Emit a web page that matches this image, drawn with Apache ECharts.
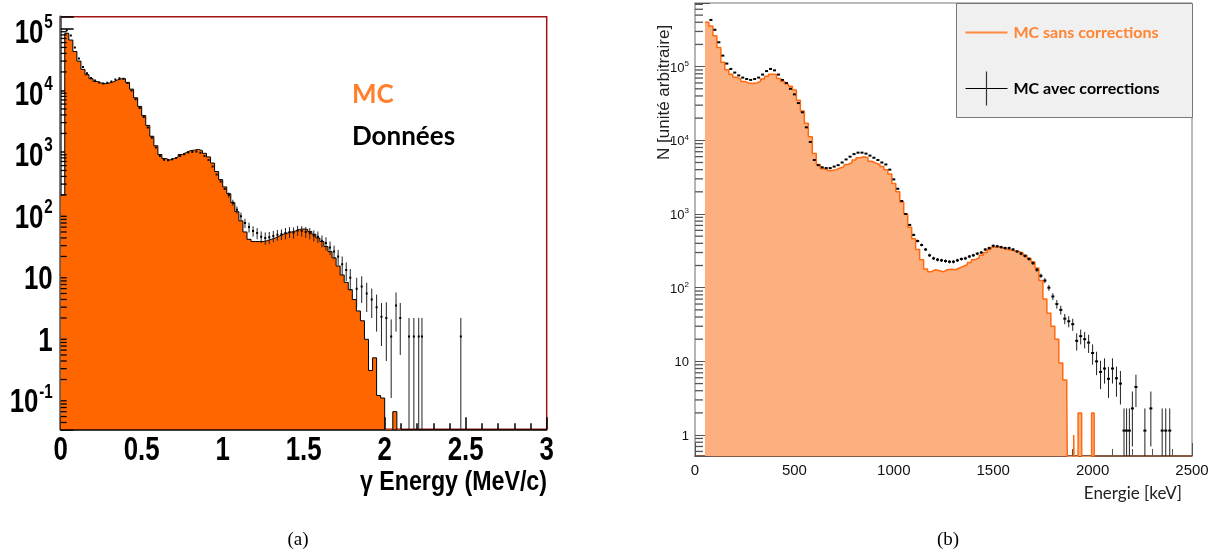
<!DOCTYPE html>
<html>
<head>
<meta charset="UTF-8">
<title>Spectres gamma</title>
<script src="https://cdn.jsdelivr.net/npm/echarts@6/dist/echarts.min.js"></script>
<style>
  html, body { margin: 0; padding: 0; background: #fff; }
  #main { width: 1220px; height: 555px; }
</style>
</head>
<body>
<div id="main"></div>
<script>
// ---- (a) gamma energy, MeV ----
// MC histogram, bins of 0.025 MeV starting at 0
var leftBin = 0.025;
var leftMc = [
    200, 85000, 66000, 43000, 30000, 22000, 18000, 15500, 14000, 13200,
    12900, 13200, 13800, 14800, 15500, 15500, 13500, 10500, 7600, 5500,
    3900, 2700, 1800, 1260, 910, 780, 740, 780, 830, 910,
    980, 1050, 1070, 1100, 1050, 950, 830, 660, 480, 355,
    270, 210, 150, 107, 76, 50, 38, 35, 35, 35,
    36, 38, 40, 43, 46, 48, 50, 52, 55, 56,
    55, 51, 46, 40, 35, 29, 24, 19, 14, 10,
    7.6, 5.8, 4, 2.6, 1.8, 0.9, 0.28, 0.45, 0.11, 0.1,
    0.001, 0.001, 0.06, 0.001
];
// data points, bin centres from 0.0375 MeV
var leftDataStart = 0.0375;
var leftDataY = [
    95000, 78000, 50000, 33000, 24000, 19000, 16000, 14500, 13500, 13000,
    13300, 14000, 15000, 15800, 15500, 13200, 10000, 7200, 5200, 3700,
    2500, 1700, 1180, 860, 750, 730, 760, 800, 860, 920,
    980, 1000, 1020, 970, 860, 740, 580, 430, 330, 250,
    200, 150, 115, 90, 70, 60, 52, 48, 42, 40,
    41, 43, 45, 46, 48, 50, 49, 53, 52, 50,
    48, 44, 42, 36, 33, 28, 24, 20, 15, 12,
    9
];
var leftDataErr = [
    0, 0, 0, 0, 0, 0, 0, 0, 0, 0,
    0, 0, 0, 0, 0, 0, 0, 0, 0, 0,
    0, 0, 0, 0, 0, 0, 0, 0, 0, 0,
    0, 0, 0, 0, 0, 0, 0, 0, 0, 0,
    20, 17, 15, 13, 12, 11, 10, 10, 9, 9,
    9, 9, 9, 9, 10, 10, 10, 10, 10, 10,
    10, 9, 9, 8, 8, 7, 6, 5.5, 5, 4,
    3.5
];
var leftTailE = [1.827, 1.858, 1.889, 1.92, 1.95, 1.98, 2.01, 2.04, 2.07, 2.096, 2.15, 2.18, 2.21, 2.23, 2.47];
var leftTailY = [6, 6.5, 5, 4, 3, 2.1, 2.0, 1.0, 3.2, 2.0, 1.0, 1.0, 1.0, 1.0, 1.0];
var leftTailErr = [3, 3, 2.5, 2, 1.8, 1.4, 1.6, 0.9, 2, 1.5, 1, 1, 1, 1, 1];
var leftXTicks = [0, 0.5, 1, 1.5, 2, 2.5, 3];
var leftYExp = [-1, 0, 1, 2, 3, 4, 5];

// ---- (b) energie, keV ----
// MC sans corrections, bins of 20 keV starting at 50 keV
var rightBinStart = 50;
var rightBin = 20;
var rightMc = [
    400000, 355000, 263000, 182000, 115000, 91000, 79000, 72000, 68000, 63000,
    60000, 59000, 60000, 63000, 68000, 74000, 79000, 78000, 69000, 63000,
    58000, 54000, 48000, 35000, 25000, 17000, 11200, 6600, 4700, 4100,
    3900, 3900, 4000, 4200, 4400, 4700, 5000, 5400, 5800, 6000,
    5800, 5200, 4900, 4700, 4400, 4000, 3500, 2600, 2000, 1450,
    1000, 660, 460, 330, 240, 180, 165, 175, 170, 165,
    175, 178, 175, 185, 195, 205, 220, 240, 255, 275,
    300, 330, 355, 360, 345, 330, 325, 315, 310, 295,
    275, 250, 225, 185, 125, 70, 45, 30, 20, 9.5,
    5.6, 3.5
];
var rightMcTailE = [1878, 1905, 1915, 1927, 1945, 1995, 2008];
var rightMcTailY = [0.01, 1, 0.01, 2, 0.01, 2, 0.01];
// MC avec corrections, points every 20 keV from 80 keV
var rightDataStart = 80;
var rightDataY = [
    430000, 316000, 214000, 141000, 110000, 93000, 83000, 76000, 71000, 68000,
    66000, 68000, 71000, 78000, 87000, 93000, 89000, 78000, 66000, 60000,
    50000, 42000, 32000, 24000, 15000, 9500, 5400, 4600, 4300, 4200,
    4200, 4400, 4600, 5000, 5500, 6000, 6500, 6800, 6800, 6600,
    6200, 5800, 5400, 5000, 4700, 4000, 2950, 2200, 1500, 1000,
    710, 520, 430, 380, 330, 275, 250, 240, 235, 230,
    225, 225, 235, 245, 250, 265, 275, 290, 300, 330,
    345, 370, 365, 355, 345, 345, 330, 310, 290, 270,
    245, 215, 175, 145, 125, 100, 76, 60, 50, 38,
    35, 32, 19, 22, 20, 18, 13, 10, 7.2, 8,
    5.8, 8, 5.9, 5.0
];
var rightDataErr = [
    0, 0, 0, 0, 0, 0, 0, 0, 0, 0,
    0, 0, 0, 0, 0, 0, 0, 0, 0, 0,
    0, 0, 0, 0, 0, 0, 0, 0, 0, 0,
    0, 0, 0, 0, 0, 0, 0, 0, 0, 0,
    0, 0, 0, 0, 0, 0, 0, 0, 0, 0,
    25, 20, 18, 16, 15, 14, 13, 13, 12, 12,
    12, 12, 12, 12, 13, 13, 13, 14, 14, 15,
    15, 16, 16, 16, 16, 16, 15, 15, 14, 14,
    13, 12, 11, 10, 10, 9, 8, 8, 7, 6,
    6, 6, 5, 5, 5, 5, 4, 3.5, 3, 3,
    2.6, 3, 2.6, 2.4
];
var rightTailE = [2158, 2171, 2185, 2200, 2218, 2263, 2293, 2350, 2368, 2388];
var rightTailY = [1.15, 1.15, 1.15, 2.3, 4.5, 1.15, 2.3, 1.15, 1.15, 1.15];
var rightTailErr = [1.15, 1.15, 1.15, 1.6, 2.1, 1.15, 1.6, 1.15, 1.15, 1.15];

var leftYMin = 0.031, leftYMax = 158000;
var rightYMin = 0.52, rightYMax = 730000;

var plain = "'Liberation Sans', Arial, sans-serif";
var calibri = "Lato, 'Open Sans', sans-serif";
var bigFont = "bold 34px 'Liberation Sans', Arial, sans-serif";
var supFont = "bold 20px 'Liberation Sans', Arial, sans-serif";
var squeeze = 0.76;   // the left panel was squeezed sideways

var measureCtx = document.createElement('canvas').getContext('2d');
function textWidth(t, font) {
    measureCtx.font = font;
    return measureCtx.measureText(t).width;
}

function stepData(start, width, vals) {
    return vals.map(function (v, i) { return [start + i * width, v]; });
}

function pointData(start, width, ys, errs) {
    return ys.map(function (v, i) { return [start + i * width, v, errs[i]]; });
}

function zipData(xs, ys, errs) {
    return xs.map(function (x, i) { return [x, ys[i], errs ? errs[i] : 0]; });
}

function powLabel(v) {
    var p = Math.log10(v);
    var r = Math.round(p);
    if (Math.abs(p - r) > 1e-6) return '';
    if (r === 0) return '{b|1}';
    if (r === 1) return '{b|10}';
    return '{b|10}{s|' + r + '}';
}

function minorValues(lo, hi) {
    var out = [];
    for (var d = -3; d <= 6; d++) {
        for (var m = 2; m <= 9; m++) {
            var v = m * Math.pow(10, d);
            if (v > lo && v < hi) out.push(v);
        }
    }
    return out;
}

function minorTickSeries(xi, yi, vals, len, color) {
    return {
        type: 'custom', xAxisIndex: xi, yAxisIndex: yi, silent: true, z: 5,
        data: vals.map(function (v) { return [0, v]; }),
        renderItem: function (params, api) {
            var p = api.coord([0, api.value(1)]);
            return {
                type: 'line',
                shape: { x1: p[0], y1: p[1], x2: p[0] + len, y2: p[1] },
                style: { stroke: color, lineWidth: 1.3 }
            };
        }
    };
}

function errorSeries(xi, yi, data, yMin, barColor, dotW) {
    return {
        type: 'custom', xAxisIndex: xi, yAxisIndex: yi, silent: true, z: 4,
        clip: true,
        data: data,
        renderItem: function (params, api) {
            var x = api.value(0), y = api.value(1), e = api.value(2);
            var c = api.coord([x, y]);
            var kids = [];
            if (e > 0) {
                var hi = api.coord([x, y + e]);
                var lo = api.coord([x, Math.max(y - e, yMin * 0.5)]);
                kids.push({
                    type: 'line',
                    shape: { x1: c[0], y1: hi[1], x2: c[0], y2: lo[1] },
                    style: { stroke: barColor, lineWidth: 1 }
                });
            }
            kids.push({
                type: 'rect',
                shape: { x: c[0] - dotW / 2, y: c[1] - 1, width: dotW, height: 2 },
                style: { fill: '#000' }
            });
            return { type: 'group', children: kids };
        }
    };
}

// big bold tick labels of panel (a), drawn narrow like the original
var leftXLabelSeries = {
    type: 'custom', xAxisIndex: 0, yAxisIndex: 0, silent: true, z: 6,
    data: leftXTicks.map(function (v) { return [v, leftYMin]; }),
    renderItem: function (params, api) {
        var p = api.coord([api.value(0), leftYMin]);
        return {
            type: 'text', x: p[0], y: p[1] + 21, scaleX: squeeze,
            style: { text: String(api.value(0)), font: bigFont, fill: '#000', align: 'center', verticalAlign: 'middle' }
        };
    }
};

var leftYLabelSeries = {
    type: 'custom', xAxisIndex: 0, yAxisIndex: 0, silent: true, z: 6,
    data: leftYExp.map(function (e) { return [0, Math.pow(10, e), e]; }),
    renderItem: function (params, api) {
        var e = api.value(2);
        var p = api.coord([0, Math.pow(10, e)]);
        var base = e === 0 ? '1' : '10';
        var sup = (e === 0 || e === 1) ? '' : String(e);
        var supW = sup ? textWidth(sup, supFont) + 1 : 0;
        var kids = [{
            type: 'text', x: -supW, y: 5,
            style: { text: base, font: bigFont, fill: '#000', align: 'right', verticalAlign: 'middle' }
        }];
        if (sup) {
            kids.push({
                type: 'text', x: 0, y: -16,
                style: { text: sup, font: supFont, fill: '#000', align: 'right', verticalAlign: 'top' }
            });
        }
        return { type: 'group', x: p[0] - 8, y: p[1], scaleX: squeeze, children: kids };
    }
};

var leftMcData = stepData(0, leftBin, leftMc);
leftMcData.push([leftMc.length * leftBin, 0.001]);

var rightMcData = stepData(rightBinStart, rightBin, rightMc);
rightMcTailE.forEach(function (x, i) { rightMcData.push([x, rightMcTailY[i]]); });

var leftPoints = pointData(leftDataStart, leftBin, leftDataY, leftDataErr)
    .concat(zipData(leftTailE, leftTailY, leftTailErr));
var rightPoints = pointData(rightDataStart, rightBin, rightDataY, rightDataErr)
    .concat(zipData(rightTailE, rightTailY, rightTailErr));

var chart = echarts.init(document.getElementById('main'));

var option = {
    animation: false,
    backgroundColor: '#fff',
    grid: [
        { left: 60.7, top: 16.7, width: 486, height: 412.6, show: true,
          borderColor: '#a01414', borderWidth: 1.5, backgroundColor: 'transparent' },
        { left: 695, top: 3, width: 497, height: 453, show: true,
          borderColor: '#777', borderWidth: 1, backgroundColor: 'transparent' }
    ],
    xAxis: [
        {
            gridIndex: 0, type: 'value', min: 0, max: 3, interval: 0.5,
            axisLine: { lineStyle: { color: '#000', width: 1.5 } },
            axisTick: { inside: true, length: 12, lineStyle: { color: '#000', width: 1.5 } },
            minorTick: { show: true, splitNumber: 5, length: 6, lineStyle: { color: '#000', width: 1.5 } },
            axisLabel: { show: false },
            splitLine: { show: false }
        },
        {
            gridIndex: 1, type: 'value', min: 0, max: 2500, interval: 500,
            axisLine: { lineStyle: { color: '#7a3a1a', width: 1.5 } },
            axisTick: { inside: true, length: 13, lineStyle: { color: '#555', width: 1 } },
            minorTick: { show: true, splitNumber: 5, length: 7, lineStyle: { color: '#555', width: 1 } },
            axisLabel: { margin: 7, color: '#111', fontFamily: plain, fontSize: 15,
                formatter: function (v) { return String(v); } },
            splitLine: { show: false }
        }
    ],
    yAxis: [
        {
            gridIndex: 0, type: 'log', logBase: 10, min: leftYMin, max: leftYMax, splitNumber: 7,
            axisLine: { lineStyle: { color: '#555', width: 2.5 } },
            axisTick: { inside: true, length: 13, lineStyle: { color: '#000', width: 1.5 } },
            axisLabel: { show: false },
            splitLine: { show: false }
        },
        {
            gridIndex: 1, type: 'log', logBase: 10, min: rightYMin, max: rightYMax, splitNumber: 7,
            axisLine: { lineStyle: { color: '#b5b5b5', width: 2 } },
            axisTick: { inside: true, length: 15, lineStyle: { color: '#555', width: 1 } },
            axisLabel: {
                margin: 6, formatter: powLabel,
                rich: {
                    b: { fontFamily: plain, fontSize: 13, color: '#111', lineHeight: 14, padding: [3, 0, 0, 0] },
                    s: { fontFamily: plain, fontSize: 8, color: '#111', lineHeight: 8, verticalAlign: 'top' }
                }
            },
            splitLine: { show: false }
        }
    ],
    graphic: [
        { type: 'text', left: 352, top: 82, style: { text: 'MC', fill: '#ff7f2a', font: 'bold 26px ' + calibri } },
        { type: 'text', left: 352, top: 124, style: { text: 'Données', fill: '#000', font: 'bold 26px ' + calibri } },
        { type: 'text', x: 547, y: 483, scaleX: 0.86, style: { text: 'γ Energy (MeV/c)', fill: '#000', font: 'bold 27px ' + plain, align: 'right', verticalAlign: 'middle' } },
        { type: 'text', x: 1182, y: 494, style: { text: 'Energie [keV]', fill: '#222', font: '17px ' + calibri, align: 'right', verticalAlign: 'middle' } },
        { type: 'text', x: 664, y: 160, rotation: Math.PI / 2, style: { text: 'N [unité arbitraire]', fill: '#222', font: '17px ' + plain, align: 'left', verticalAlign: 'middle' } },
        { type: 'text', x: 298, y: 540, style: { text: '(a)', fill: '#000', font: '19px "Liberation Serif", "DejaVu Serif", serif', align: 'center', verticalAlign: 'middle' } },
        { type: 'text', x: 948, y: 540, style: { text: '(b)', fill: '#000', font: '19px "Liberation Serif", "DejaVu Serif", serif', align: 'center', verticalAlign: 'middle' } },
        {
            type: 'group', left: 956, top: 3,
            children: [
                { type: 'rect', shape: { x: 0, y: 0, width: 236, height: 114 }, style: { fill: '#f0f0f0', stroke: '#777', lineWidth: 1 } },
                { type: 'line', shape: { x1: 9, y1: 29, x2: 51, y2: 29 }, style: { stroke: '#ff8a3d', lineWidth: 2 } },
                { type: 'text', x: 57, y: 29, style: { text: 'MC sans corrections', fill: '#ff8533', font: 'bold 16px ' + calibri, verticalAlign: 'middle' } },
                { type: 'line', shape: { x1: 9, y1: 85, x2: 51, y2: 85 }, style: { stroke: '#000', lineWidth: 1.2 } },
                { type: 'line', shape: { x1: 30, y1: 68, x2: 30, y2: 102 }, style: { stroke: '#333', lineWidth: 1.2 } },
                { type: 'text', x: 57, y: 85, style: { text: 'MC avec corrections', fill: '#000', font: 'bold 16px ' + calibri, verticalAlign: 'middle' } }
            ]
        }
    ],
    series: [
        {
            type: 'line', xAxisIndex: 0, yAxisIndex: 0, step: 'end', symbol: 'none', z: 2,
            data: leftMcData,
            lineStyle: { color: '#000', width: 1 },
            areaStyle: { origin: 'start', color: '#ff6600', opacity: 1 }
        },
        {
            type: 'line', xAxisIndex: 1, yAxisIndex: 1, step: 'end', symbol: 'none', z: 2,
            data: rightMcData,
            lineStyle: { color: '#ff6a10', width: 1.5 },
            areaStyle: { origin: 'start', color: '#fdb07f', opacity: 1 }
        },
        errorSeries(0, 0, leftPoints, leftYMin, '#222', 2),
        errorSeries(1, 1, rightPoints, rightYMin, '#222', 3),
        minorTickSeries(0, 0, minorValues(leftYMin, leftYMax), 6, '#000'),
        minorTickSeries(1, 1, minorValues(rightYMin, rightYMax), 8, '#555'),
        leftXLabelSeries,
        leftYLabelSeries
    ]
};

chart.setOption(option);
</script>
</body>
</html>
